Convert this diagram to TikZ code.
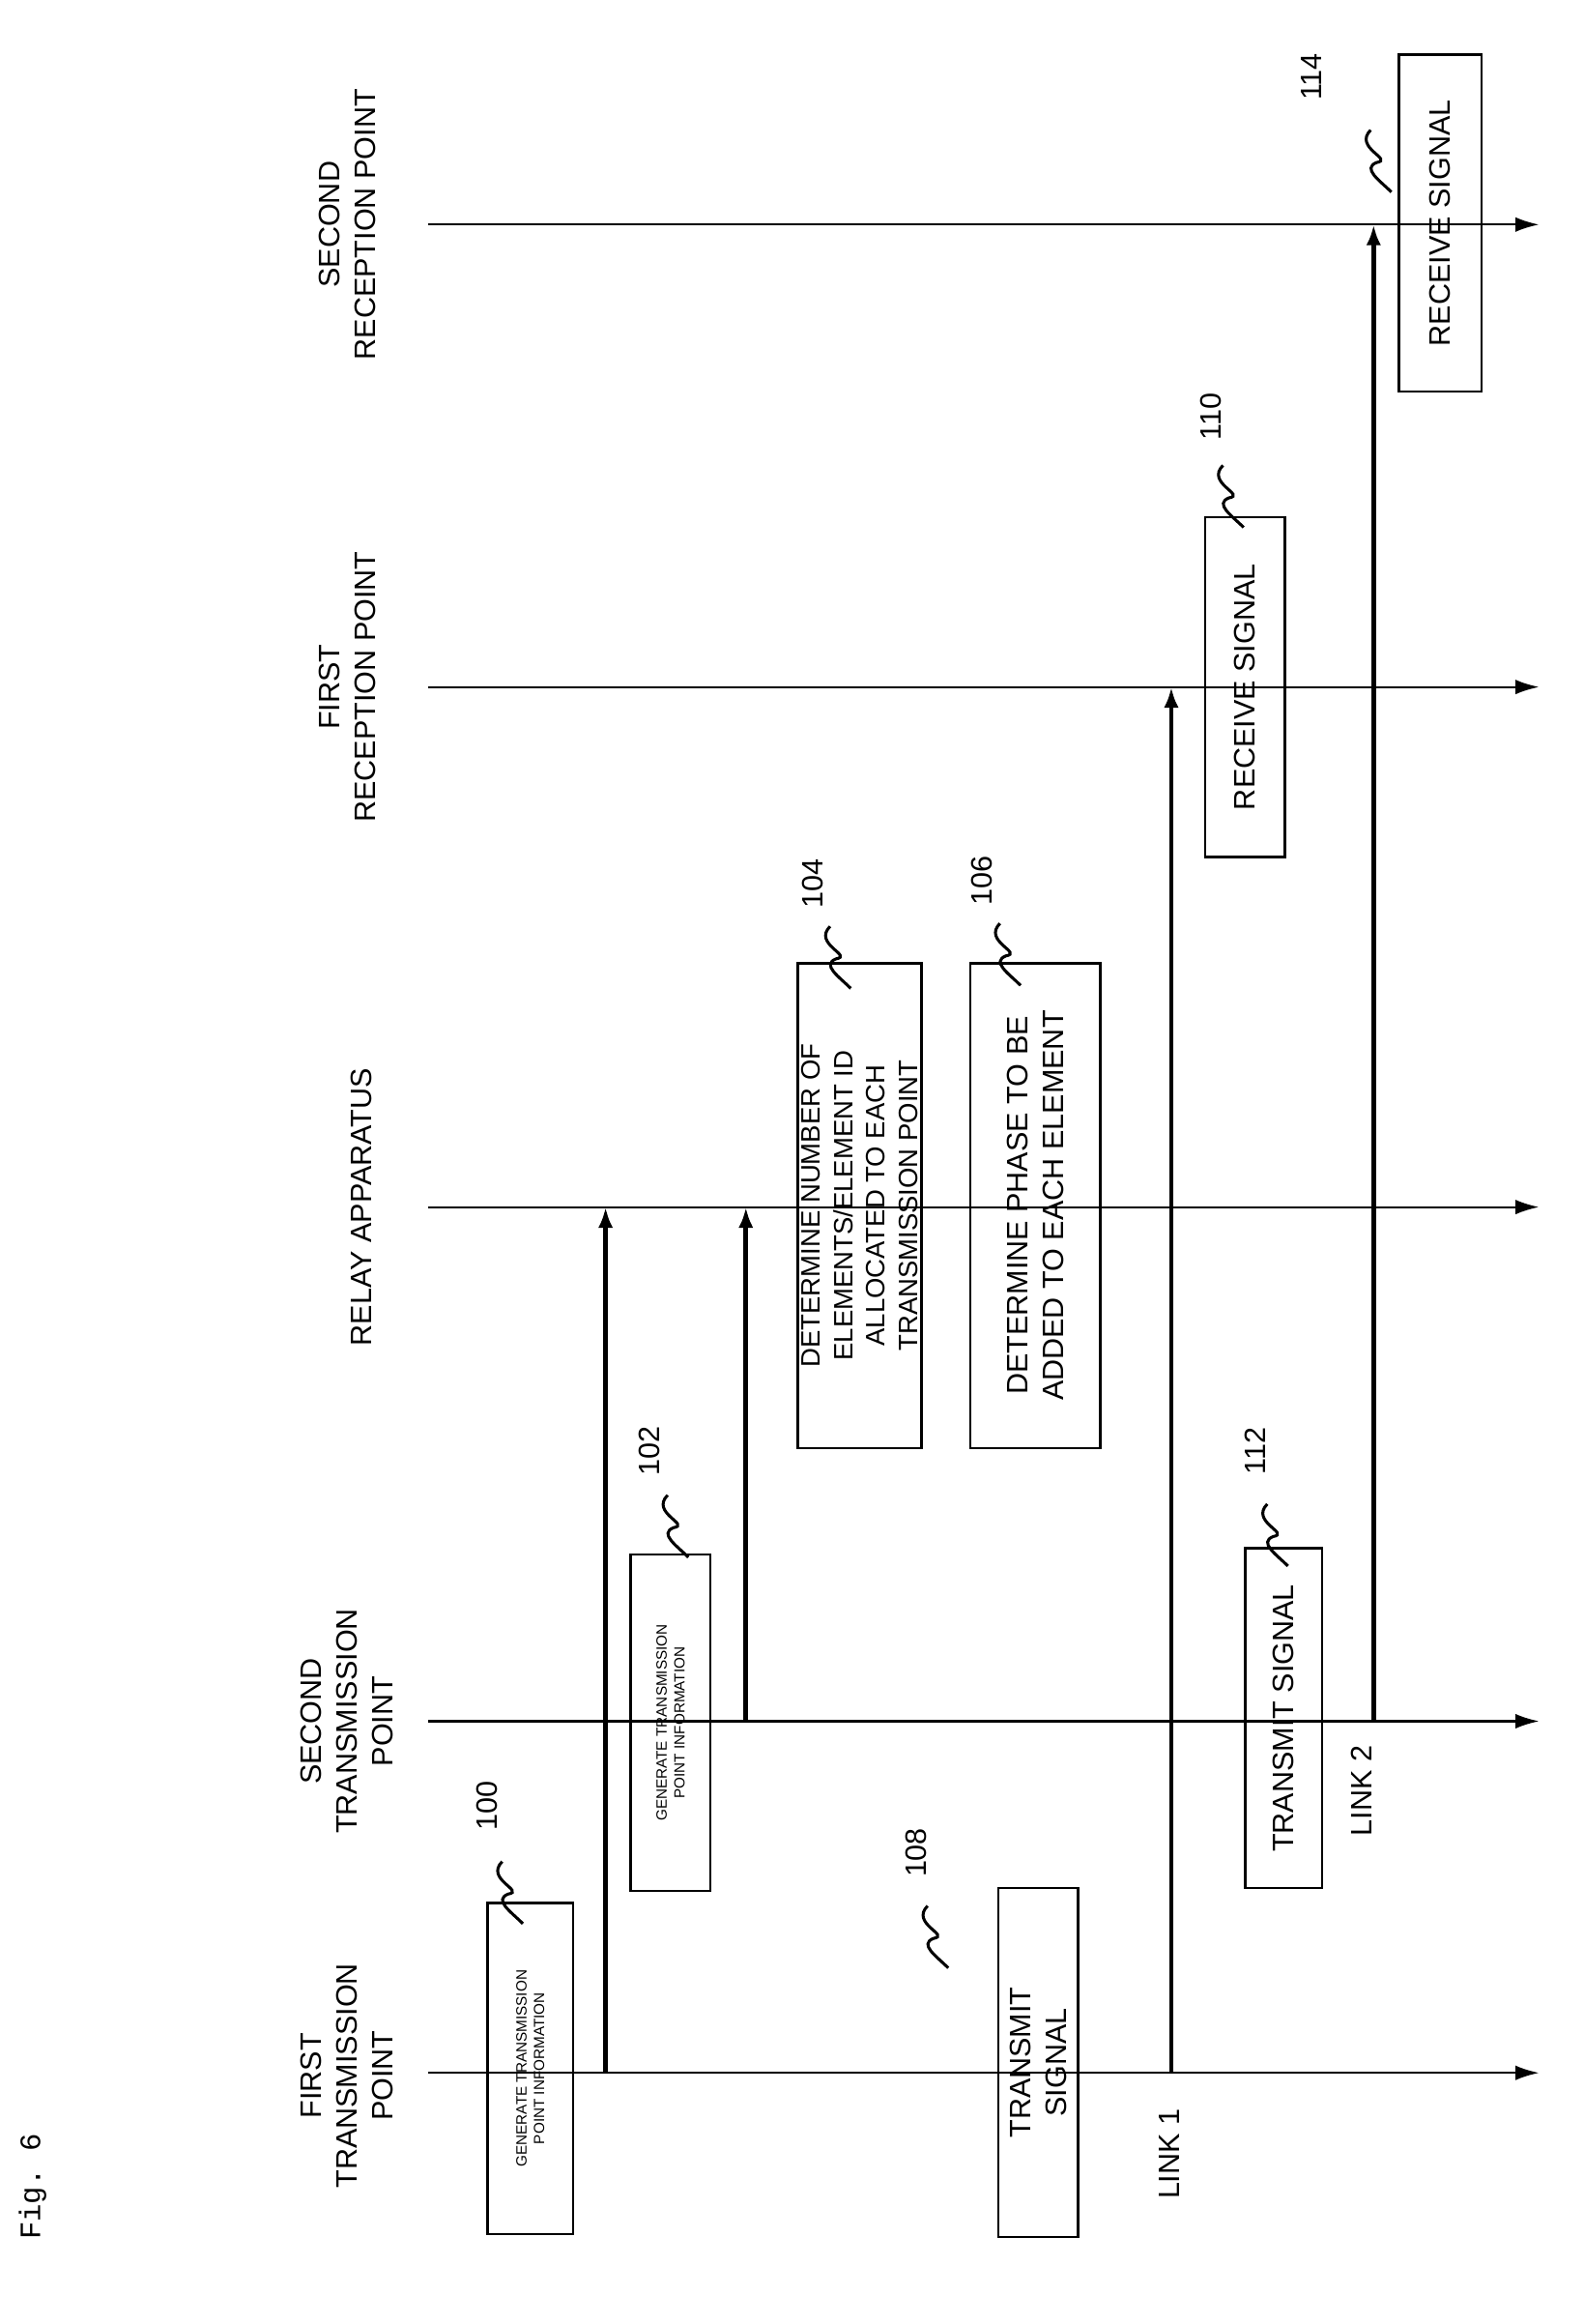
\documentclass[tikz,border=0pt]{standalone}
\usepackage{fontspec}
\setmainfont{Liberation Sans}
\setmonofont{Liberation Mono}
\usetikzlibrary{arrows.meta}
\tikzset{
    life/.style={-{Latex[length=8pt,width=5pt]}, line width=0.7pt},
    msg/.style={-{Latex[length=7pt,width=5pt]}, line width=1.6pt},
    box/.style={draw, line width=0.8pt, rotate=90, align=center, inner sep=1pt},
    head/.style={rotate=90, align=center, font=\normalsize, inner sep=0pt},
    num/.style={rotate=90, font=\normalsize, inner sep=1pt},
    squig/.style={line width=1pt},
}
\begin{document}
\begin{tikzpicture}[x=0.5pt, y=-0.5pt]
    \useasboundingbox (0,0) rectangle (1072,1573);
    \node[rotate=90, font=\ttfamily\normalsize] (fig) at (22,1480) {Fig. 6};

    % lifelines
    \node[head] (h1) at (235,1405) {FIRST\\TRANSMISSION\\POINT};
    \node[head] (h2) at (235,1165) {SECOND\\TRANSMISSION\\POINT};
    \node[head] (h3) at (245,817) {RELAY APPARATUS};
    \node[head] (h4) at (235,465) {FIRST\\RECEPTION POINT};
    \node[head] (h5) at (235,152) {SECOND\\RECEPTION POINT};
    \foreach \n/\y in {a/1403, b/1165, c/817, d/465, e/152} {
        \coordinate (\n0) at (290,\y);
        \coordinate (\n1) at (1042,\y);
        \draw[life] (\n0) -- (\n1);
    }

    % steps
    \node[box, minimum width=112pt, minimum height=29pt, font=\tiny] (s100) at (359,1400) {GENERATE TRANSMISSION\\POINT INFORMATION};
    \node[box, minimum width=114pt, minimum height=27pt, font=\tiny] (s102) at (454,1166) {GENERATE TRANSMISSION\\POINT INFORMATION};
    \node[box, minimum width=164pt, minimum height=42pt, font=\small, inner sep=0pt] (s104) at (582,816) {DETERMINE NUMBER OF\\ELEMENTS/ELEMENT ID\\ALLOCATED TO EACH\\TRANSMISSION POINT};
    \node[box, minimum width=164pt, minimum height=44pt, font=\normalsize] (s106) at (701,816) {DETERMINE PHASE TO BE\\ADDED TO EACH ELEMENT};
    \node[box, minimum width=118pt, minimum height=27pt] (s108) at (703,1396) {TRANSMIT\\SIGNAL};
    \node[box, minimum width=115pt, minimum height=27pt] (s110) at (843,465) {RECEIVE SIGNAL};
    \node[box, minimum width=115pt, minimum height=26pt] (s112) at (869,1163) {TRANSMIT SIGNAL};
    \node[box, minimum width=114pt, minimum height=28pt] (s114) at (975,151) {RECEIVE SIGNAL};

    % reference numerals
    \foreach \k/\x/\y/\p/\q in {100/330/1222/340/1260, 102/440/982/452/1012, 104/550/598/562/627,
            106/665/596/677/625, 108/620/1254/628/1290, 110/820/282/828/315,
            112/850/982/858/1018, 114/888/52/928/88} {
        \node[num] (n\k) at (\x,\y) {\k};
        \coordinate (t\k) at (\p,\q);
        \draw[squig] (t\k) .. controls +(-12,12) and +(12,-2) .. +(4,22)
            .. controls +(-10,4) and +(-8,-8) .. +(14,42);
    }

    % messages
    \coordinate (m1a) at (410,1403); \coordinate (m1b) at (410,817);
    \coordinate (m2a) at (505,1165); \coordinate (m2b) at (505,817);
    \coordinate (m3a) at (793,1403); \coordinate (m3b) at (793,465);
    \coordinate (m4a) at (930,1165); \coordinate (m4b) at (930,152);
    \draw[msg] (m1a) -- (m1b);
    \draw[msg] (m2a) -- (m2b);
    \draw[msg] (m3a) -- (m3b);
    \draw[msg] (m4a) -- (m4b);
    \node[num] (l1) at (792,1458) {LINK 1};
    \node[num] (l2) at (922,1212) {LINK 2};
\end{tikzpicture}
\end{document}
